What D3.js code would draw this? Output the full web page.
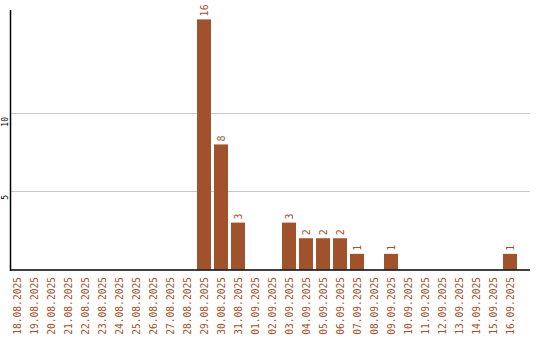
<!DOCTYPE html>
<html>
<head>
<meta charset="utf-8">
<script src="https://cdn.jsdelivr.net/npm/d3@7"></script>
<style>
  body { margin: 0; background: #fff; }
  svg { display: block; }
</style>
</head>
<body>
<svg id="chart" width="540" height="340"></svg>
<script>
var dates = ["18.08.2025", "19.08.2025", "20.08.2025", "21.08.2025", "22.08.2025",
  "23.08.2025", "24.08.2025", "25.08.2025", "26.08.2025", "27.08.2025",
  "28.08.2025", "29.08.2025", "30.08.2025", "31.08.2025", "01.09.2025",
  "02.09.2025", "03.09.2025", "04.09.2025", "05.09.2025", "06.09.2025",
  "07.09.2025", "08.09.2025", "09.09.2025", "10.09.2025", "11.09.2025",
  "12.09.2025", "13.09.2025", "14.09.2025", "15.09.2025", "16.09.2025"];
var counts = [0, 0, 0, 0, 0, 0, 0, 0, 0, 0, 0, 16, 8, 3, 0, 0, 3, 2, 2, 2, 1, 0, 1, 0, 0, 0, 0, 0, 0, 1];
var yTicks = [5, 10];
var yMax = 16.6;

var color = "#a0522d";
var svg = d3.select("#chart");

var x = d3.scaleBand()
    .domain(dates)
    .range([8.5, 518.5])
    .paddingInner(3 / 17)
    .paddingOuter(1.5 / 17);

var y = d3.scaleLinear()
    .domain([0, yMax])
    .range([269.5, 10]);

// grid
svg.append("g")
  .selectAll("line")
  .data(yTicks)
  .enter().append("line")
    .attr("x1", 10)
    .attr("x2", 530)
    .attr("y1", function(d) { return Math.round(y(d)) + 0.5; })
    .attr("y2", function(d) { return Math.round(y(d)) + 0.5; })
    .attr("stroke", "#c8c8c8")
    .attr("stroke-width", 1);

// y tick labels, rotated
svg.append("g")
  .selectAll("text")
  .data(yTicks)
  .enter().append("text")
    .attr("transform", function(d) { return "translate(8," + (Math.round(y(d)) + 4) + ") rotate(-90)"; })
    .attr("text-anchor", "end")
    .style("font", "8px 'DejaVu Sans Mono', monospace")
    .attr("fill", "#000")
    .text(function(d) { return d; });

var bars = dates.map(function(d, i) { return {date: d, value: counts[i]}; })
  .filter(function(d) { return d.value > 0; });

// bars
svg.append("g")
  .selectAll("rect")
  .data(bars)
  .enter().append("rect")
    .attr("x", function(d) { return x(d.date); })
    .attr("y", function(d) { return y(d.value); })
    .attr("width", x.bandwidth())
    .attr("height", function(d) { return y(0) - y(d.value); })
    .attr("fill", color);

// value labels
svg.append("g")
  .selectAll("text")
  .data(bars)
  .enter().append("text")
    .attr("transform", function(d) {
      return "translate(" + (x(d.date) + x.bandwidth() / 2 + 4) + "," + (y(d.value) - 3) + ") rotate(-90)";
    })
    .attr("text-anchor", "start")
    .style("font", "10px 'DejaVu Sans Mono', monospace")
    .attr("fill", color)
    .text(function(d) { return d.value; });

// axis lines
svg.append("line")
    .attr("x1", 10.5).attr("x2", 10.5)
    .attr("y1", 10).attr("y2", 271)
    .attr("stroke", "#000").attr("stroke-width", 1.5);
svg.append("line")
    .attr("x1", 10).attr("x2", 530)
    .attr("y1", 270).attr("y2", 270)
    .attr("stroke", "#000").attr("stroke-width", 1.5);

// x labels, rotated
svg.append("g")
  .selectAll("text")
  .data(dates)
  .enter().append("text")
    .attr("transform", function(d) {
      return "translate(" + (x(d) + x.bandwidth() / 2 + 4) + ",277) rotate(-90)";
    })
    .attr("text-anchor", "end")
    .style("font", "9.6px 'DejaVu Sans Mono', monospace")
    .attr("fill", color)
    .text(function(d) { return d; });
</script>
</body>
</html>
